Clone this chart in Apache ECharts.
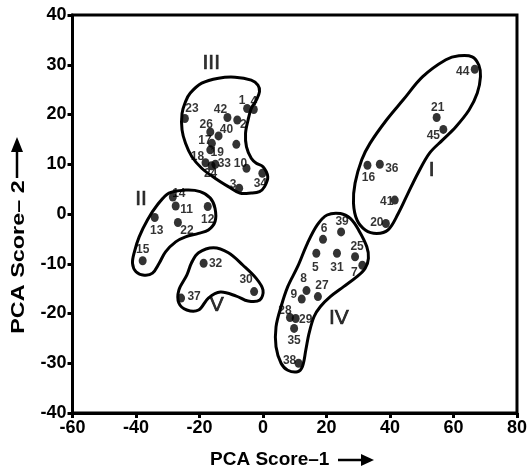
<!DOCTYPE html>
<html><head><meta charset="utf-8">
<script src="https://cdn.jsdelivr.net/npm/echarts@6/dist/echarts.min.js"></script>
<style>html,body{margin:0;padding:0;background:#fff}#c{width:530px;height:474px}</style>
</head><body><div id="c"></div>
<script>
// ---- data ----
const xTicks = [-60, -40, -20, 0, 20, 40, 60, 80];
const yTicks = [-40, -30, -20, -10, 0, 10, 20, 30, 40];
const pointIds = ['1','4','23','42','2','26','40','17','','19','18','33','24','10','34','3',
  '14','11','12','13','22','15',
  '32','30','37',
  '6','39','5','31','25','7','8','9','27','28','29','35','38',
  '44','21','45','16','36','41','20'];
const pointX = [-5.0,-2.9,-24.6,-11.2,-8.1,-16.6,-14.0,-16.1,-8.4,-16.6,-18.1,-15.0,-16.2,-5.2,-0.2,-7.5,
  -28.4,-27.5,-17.4,-34.1,-26.8,-37.9,
  -18.7,-2.8,-25.8,
  18.9,24.6,16.8,23.3,29.0,31.3,13.7,12.2,17.3,8.5,10.3,9.8,11.2,
  66.7,54.7,56.8,32.9,36.8,41.5,38.7];
const pointY = [21.2,21.0,19.2,19.4,18.9,16.5,15.7,14.2,14.0,12.9,10.3,10.0,9.7,9.2,8.2,5.2,
  3.4,1.6,1.5,-0.7,-1.7,-9.4,
  -9.9,-15.6,-16.9,
  -5.1,-3.6,-7.9,-7.9,-8.6,-10.3,-15.4,-17.1,-16.6,-20.8,-21.0,-23.0,-30.0,
  29.1,19.4,17.0,9.8,10.0,2.8,-1.9];
const groupNames = ['I','II','III','IV','V'];
const groupLabelX = [53.1, -38.4, -16.3, 23.9, -14.6];
const groupLabelY = [8.8, 3.0, 30.3, -21.0, -18.3];
const outlineI = [[57.6,31.0],[61.7,31.8],[65.9,31.6],[68.0,29.9],[68.5,27.6],[67.5,24.3],[64.9,20.9],[60.7,17.5],[56.6,14.9],[52.4,12.2],[48.8,8.2],[45.7,4.2],[42.6,0.1],[39.4,-3.2],[35.8,-3.9],[32.2,-3.2],[29.6,-1.2],[28.5,2.2],[29.0,6.2],[31.1,10.9],[33.7,14.2],[38.9,18.9],[44.1,22.9],[50.3,27.6]];
const outlineII = [[-29.6,4.2],[-24.4,4.8],[-19.8,4.5],[-16.6,3.2],[-15.1,1.1],[-15.1,-1.5],[-17.2,-3.2],[-20.3,-3.9],[-24.4,-4.6],[-27.5,-5.6],[-30.7,-7.6],[-32.7,-9.9],[-34.8,-11.9],[-37.4,-12.3],[-40.0,-11.6],[-41.1,-9.9],[-40.5,-7.6],[-39.0,-4.6],[-36.4,-1.2],[-33.3,1.8]];
const outlineIII = [[-22.9,24.3],[-19.3,26.3],[-14.0,27.3],[-8.8,27.5],[-3.7,26.9],[-1.6,25.9],[-1.1,24.6],[-2.1,22.9],[-3.7,21.2],[-4.7,18.9],[-5.5,16.2],[-5.2,13.5],[-3.7,11.2],[-2.1,10.2],[0.0,9.5],[1.5,7.5],[0.5,5.5],[-1.1,4.5],[-3.7,4.2],[-7.3,4.2],[-10.9,5.5],[-15.1,7.2],[-19.3,9.2],[-22.4,11.5],[-24.4,14.2],[-25.5,16.9],[-25.5,20.2],[-24.4,22.6]];
const outlineIV = [[20.2,-0.2],[24.4,0.1],[27.5,-0.9],[30.1,-3.2],[32.7,-6.6],[33.2,-8.9],[32.2,-10.9],[29.6,-12.6],[25.4,-14.6],[21.2,-16.6],[18.1,-18.6],[16.1,-20.6],[14.5,-24.0],[13.5,-27.3],[12.4,-30.7],[10.9,-31.7],[7.8,-31.4],[5.7,-30.0],[4.1,-26.7],[4.1,-22.7],[5.7,-18.6],[7.8,-14.6],[10.9,-10.6],[14.0,-5.9],[17.1,-2.2]];
const outlineV = [[-20.3,-7.8],[-15.6,-6.8],[-10.9,-7.8],[-6.3,-10.3],[-2.2,-12.9],[0.0,-15.3],[-1.0,-17.3],[-4.7,-17.5],[-8.4,-16.5],[-13.4,-15.7],[-17.2,-16.9],[-20.3,-19.3],[-24.0,-19.3],[-26.5,-17.9],[-26.5,-15.3],[-24.0,-12.3],[-22.5,-9.8]];
const outlines = [outlineI, outlineII, outlineIII, outlineIV, outlineV];

// ---- styles (label offsets in px, not data) ----
const labelOffsets = [[-5,-8],[0,-8],[7,-10],[-7,-8],[6,5],[-4,-7],[8,-6],[-7,-3],[0,0],[7,3],[-8,-6],[9,-1],[-1,8],[-6,-5],[-2,10],[-6,-3],
  [6,-3],[11,4],[0,13],[2,13],[9,8],[0,-11],
  [12,0],[-8,-12],[13,-1],
  [1,-11],[1,-10],[-1,14],[0,14],[2,-10],[-8,7],[-3,-12],[-8,-4],[4,-11],[-5,-7],[10,1],[0,12],[-9,-3],
  [-12,2],[1,-10],[-10,6],[1,12],[12,4],[-8,2],[-9,-1]];

const FONT = '"Liberation Sans", Arial, sans-serif';
const chart = echarts.init(document.getElementById('c'), null, {renderer: 'canvas'});

const pointData = pointIds.map((id, i) => ({
  value: [pointX[i], pointY[i]],
  name: id,
  label: {show: id !== '', offset: labelOffsets[i]}
}));
const groupData = groupNames.map((n, i) => ({value: [groupLabelX[i], groupLabelY[i]], name: n}));

chart.setOption({
  animation: false,
  grid: {left: 72.5, right: 8, top: 15, bottom: 61, show: true, borderColor: '#000', borderWidth: 3, backgroundColor: 'transparent'},
  xAxis: {
    type: 'value', min: -60, max: 80, interval: 20,
    axisLine: {show: true, onZero: false, lineStyle: {color: '#000', width: 3}},
    axisTick: {show: true, length: 5, lineStyle: {color: '#000', width: 3}},
    splitLine: {show: false},
    axisLabel: {color: '#000', fontFamily: FONT, fontWeight: 'bold', fontSize: 18, margin: 6,
      formatter: v => xTicks.includes(v) ? String(v) : ''}
  },
  yAxis: {
    type: 'value', min: -40, max: 40, interval: 10,
    axisLine: {show: true, onZero: false, lineStyle: {color: '#000', width: 3}},
    axisTick: {show: true, length: 5, lineStyle: {color: '#000', width: 3}},
    splitLine: {show: false},
    axisLabel: {color: '#000', fontFamily: FONT, fontWeight: 'bold', fontSize: 18, margin: 6,
      formatter: v => yTicks.includes(v) ? String(v) : ''}
  },
  series: [
    {
      type: 'custom',
      data: outlines.map((o, i) => [o[0][0], o[0][1], i]),
      renderItem: function (params, api) {
        const pts = outlines[api.value(2)].map(p => api.coord(p));
        return {type: 'polygon', shape: {points: pts, smooth: 0.35},
          style: {fill: 'none', stroke: '#000', lineWidth: 3}};
      },
      z: 2, silent: true
    },
    {
      type: 'scatter',
      data: pointData,
      symbol: 'circle',
      symbolSize: [8, 9],
      itemStyle: {color: '#000'},
      label: {show: true, position: 'inside', formatter: '{b}', color: '#000',
        fontFamily: FONT, fontWeight: 'bold', fontSize: 12},
      z: 3, silent: true
    },
    {
      type: 'scatter',
      data: groupData,
      symbolSize: 0,
      label: {show: true, position: 'inside', formatter: '{b}', color: '#000',
        fontFamily: FONT, fontSize: 21, textBorderColor: '#000', textBorderWidth: 0.7},
      z: 3, silent: true
    }
  ],
  graphic: [
    {type: 'text', left: 210, top: 450, style: {text: 'PCA Score–1', fill: '#000', font: 'bold 19px ' + FONT}},
    {type: 'line', shape: {x1: 338, y1: 460, x2: 364, y2: 460}, style: {stroke: '#000', lineWidth: 2.5}},
    {type: 'polygon', shape: {points: [[361, 454], [374, 460], [361, 466]]}, style: {fill: '#000'}},
    {type: 'text', x: 19, y: 257, rotation: Math.PI / 2, scaleX: 1.3, style: {text: 'PCA Score– 2', fill: '#000', font: 'bold 18px ' + FONT, textAlign: 'center', textVerticalAlign: 'middle'}},
    {type: 'line', shape: {x1: 17, y1: 178, x2: 17, y2: 150}, style: {stroke: '#000', lineWidth: 2.5}},
    {type: 'polygon', shape: {points: [[11, 152], [17, 137], [23, 152]]}, style: {fill: '#000'}}
  ]
});
</script></body></html>
